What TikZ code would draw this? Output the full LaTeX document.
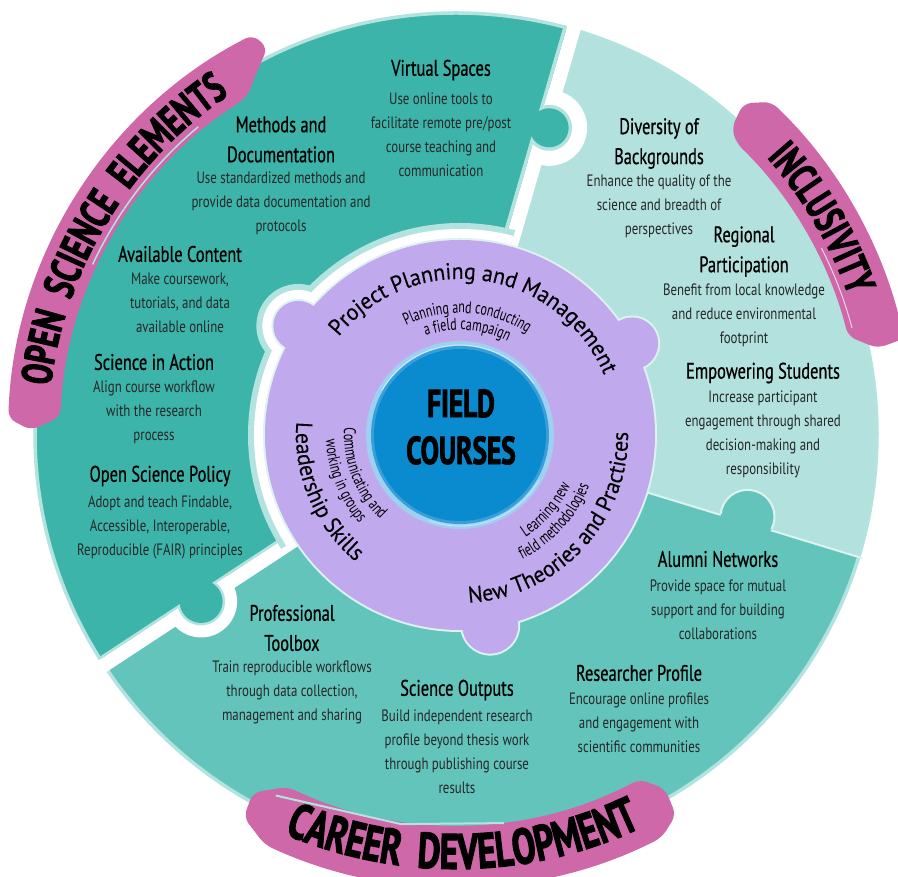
\documentclass[tikz,border=0pt]{standalone}
\usepackage{fontspec}
\setmainfont{PT Sans}
\newfontfamily\headfont{PT Sans}[FakeStretch=0.73,FakeBold=0.6]
\newfontfamily\bodyfont{PT Sans}[FakeStretch=0.78]
\newfontfamily\subfont{PT Sans}[FakeStretch=0.7]
\newfontfamily\curvefont{PT Sans}[FakeStretch=0.95,FakeBold=0.2]
\newfontfamily\bannerfont{PT Sans}[FakeStretch=0.7,BoldFeatures={FakeBold=2.2}]
\usetikzlibrary{decorations.text}

\definecolor{darkteal}{HTML}{3CB4A9}
\definecolor{lightteal}{HTML}{B2E1DE}
\definecolor{midteal}{HTML}{63C4BC}
\definecolor{rim}{HTML}{B3E3DF}
\definecolor{paleline}{HTML}{DDF3F1}
\definecolor{lavender}{HTML}{C1A9EE}
\definecolor{fieldblue}{HTML}{0A8BCF}
\definecolor{glowblue}{HTML}{9FD0F1}
\definecolor{brushpink}{HTML}{CE68A8}
\definecolor{bodygray}{HTML}{262626}

\tikzset{
  head/.style={font=\headfont\fontsize{22.5}{30}\selectfont, align=center, inner sep=0pt, text=black},
  body/.style={font=\bodyfont\fontsize{16.5}{24}\selectfont, align=center, inner sep=0pt, text=bodygray},
  curved/.style 2 args={decorate, decoration={text along path, text align=center, text={|#1|#2}}},
}

% heading and text of one topic: name, x, y of heading, heading, y of text, text
\newcommand\topic[6]{%
  \node[head] (#1) at (#2,#3) {#4};
  \node[body] (#1-txt) at (#2,#5) {#6};}

% the purple hub with its three knobs, grown by #1
\newcommand\blob[1]{(0,0) circle[radius={195+#1}] (146:195) circle[radius={25+#1}]
  (28:195) circle[radius={26+#1}] (-81:193) circle[radius={28+#1}]}

\begin{document}
\begin{tikzpicture}[x=1pt,y=1pt]
\useasboundingbox (0,0) rectangle (898,877);
\coordinate (C) at (456,443);
\coordinate (P) at (460,442);

% outer ring: three segments
\begin{scope}[shift={(C)}]
  \fill[darkteal] (0,0) -- (73.8:421) arc[start angle=73.8, end angle=213.3, radius=421] -- cycle;
  \fill[lightteal] (0,0) -- (-17:421) arc[start angle=-17, end angle=73.8, radius=421] -- cycle;
  \fill[midteal] (0,0) -- (213.3:421) arc[start angle=213.3, end angle=343, radius=421] -- cycle;
  \draw[rim, line width=3.5] (0,0) circle[radius=421];

  % gap open science / inclusivity
  \begin{scope}[rotate=73.8]
    \fill[white] (180,-7) rectangle (435,7);
    \draw[rim, line width=3.5] (180,8.75) -- (420,8.75);
    \begin{scope}
      \clip (250,-80) rectangle (400,7);
      \fill[white] (320,-4) circle[radius=38];
      \fill[rim] (320,-4) circle[radius=23];
    \end{scope}
    \fill[darkteal] (320,-4) circle[radius=19.5];
  \end{scope}

  % gap career / open science
  \begin{scope}[rotate=213.3]
    \fill[white] (180,-7) rectangle (435,7);
    \draw[rim, line width=2.5] (180,-8.25) -- (420,-8.25);
    \begin{scope}
      \clip (230,-7) rectangle (380,80);
      \fill[white] (305,0) circle[radius=36];
      \fill[rim] (305,0) circle[radius=24];
    \end{scope}
    \fill[darkteal] (305,0) circle[radius=21.5];
  \end{scope}

  % gap inclusivity / career
  \begin{scope}[rotate=-17]
    \draw[paleline, line width=2] (185,0) -- (425,0);
    \fill[midteal] (303,6) circle[radius=27];
    \begin{scope}
      \clip (250,1) rectangle (360,60);
      \draw[paleline, line width=2] (303,6) circle[radius=27];
    \end{scope}
  \end{scope}

  % white moat round the hub on the open science side
  \begin{scope}
    \clip (0,0) -- (73.8:450) arc[start angle=73.8, end angle=213.3, radius=450] -- cycle;
    \begin{scope}[shift={(4,-1)}]
      \fill[rim] \blob{17};
      \fill[white] \blob{11};
    \end{scope}
  \end{scope}
\end{scope}

% hub
\begin{scope}[shift={(P)}]
  \fill[paleline] \blob{2};
  \fill[lavender] \blob{0};
  \fill[glowblue] (0,0) circle[radius=94];
  \fill[fieldblue!70!glowblue] (0,0) circle[radius=89];
  \fill[fieldblue] (0,0) circle[radius=86];
  \draw[white, opacity=.6, line width=.8] (35:90) arc[start angle=35, end angle=150, radius=90];
  \draw[white, opacity=.5, line width=.8] (250:91) arc[start angle=250, end angle=330, radius=91];

  \path[curved={\curvefont\fontsize{23}{23}\selectfont}{Project Planning and Management}]
    (171.8:156) arc[start angle=171.8, end angle=-8.2, radius=156];
  \path[curved={\subfont\fontsize{17}{17}\selectfont}{Planning and conducting}]
    (176.4:122) arc[start angle=176.4, end angle=-3.6, radius=122];
  \path[curved={\subfont\fontsize{17}{17}\selectfont}{a field campaign}]
    (176:105) arc[start angle=176, end angle=-4, radius=105];

  \path[curved={\curvefont\fontsize{23}{23}\selectfont}{Leadership Skills}]
    (113:164) arc[start angle=113, end angle=293, radius=164];
  \path[curved={\subfont\fontsize{17}{17}\selectfont}{Communicating and}]
    (111.5:116) arc[start angle=111.5, end angle=291.5, radius=116];
  \path[curved={\subfont\fontsize{17}{17}\selectfont}{working in groups}]
    (111.7:134) arc[start angle=111.7, end angle=291.7, radius=134];

  \path[curved={\curvefont\fontsize{23}{23}\selectfont}{New Theories and Practices}]
    (227:168) arc[start angle=227, end angle=407, radius=168];
  \path[curved={\subfont\fontsize{17}{17}\selectfont}{Learning new}]
    (229:121.5) arc[start angle=229, end angle=409, radius=121.5];
  \path[curved={\subfont\fontsize{17}{17}\selectfont}{field methodologies}]
    (227.5:139) arc[start angle=227.5, end angle=407.5, radius=139];
\end{scope}

% texts, in pixel coordinates of the page
\begin{scope}[y=-1pt, yshift=877pt]
  \node[font=\bannerfont\bfseries\fontsize{39}{47}\selectfont, align=center, inner sep=0pt] (field) at (461,427) {FIELD\\COURSES};

  \topic{virtual}{441}{70}{Virtual Spaces}{134.5}{Use online tools to\\facilitate remote pre/post\\course teaching and\\communication}
  \topic{methods}{281}{139.5}{Methods and\\Documentation}{203.5}{Use standardized methods and\\provide data documentation and\\protocols}
  \topic{content}{180}{254}{Available Content}{302.5}{Make coursework,\\tutorials, and data\\available online}
  \topic{action}{154}{362}{Science in Action}{412.5}{Align course workflow\\with the research\\process}
  \topic{policy}{160}{476}{Open Science Policy}{527}{Adopt and teach Findable,\\Accessible, Interoperable,\\Reproducible (FAIR) principles}
  \topic{diversity}{659}{143.5}{Diversity of\\Backgrounds}{206.5}{Enhance the quality of the\\science and breadth of\\perspectives}
  \topic{regional}{744}{251.5}{Regional\\Participation}{315.5}{Benefit from local knowledge\\and reduce environmental\\footprint}
  \topic{empower}{763}{373}{Empowering Students}{434.5}{Increase participant\\engagement through shared\\decision-making and\\responsibility}
  \topic{alumni}{718}{559}{Alumni Networks}{610}{Provide space for mutual\\support and for building\\collaborations}
  \topic{profile}{639}{673}{Researcher Profile}{723}{Encourage online profiles\\and engagement with\\scientific communities}
  \topic{outputs}{457}{690}{Science Outputs}{751.5}{Build independent research\\profile beyond thesis work\\through publishing course\\results}
  \topic{toolbox}{292}{628}{Professional\\Toolbox}{692.5}{Train reproducible workflows\\through data collection,\\management and sharing}
\end{scope}

% brush banners
\begin{scope}[shift={(C)}]
  \fill[brushpink, rounded corners=8pt] (117:448) arc[start angle=117, end angle=178, radius=448]
    -- (179.5:425) -- (177.5:396) arc[start angle=177.5, end angle=122, radius=396]
    -- (119:412) -- (116:430) -- cycle;
  \draw[rim, line width=1.5] (155:401) arc[start angle=155, end angle=130, radius=401];
  \path[curved={\bannerfont\bfseries\fontsize{43}{43}\selectfont}{OPEN{\ \ }SCIENCE{\ \ }ELEMENTS}]
    (238.5:408) arc[start angle=238.5, end angle=58.5, radius=408];

  \fill[brushpink, rounded corners=8pt] (12:458) arc[start angle=12, end angle=46.5, radius=458]
    -- (49:438) -- (48:412) -- (46:404) arc[start angle=46, end angle=14, radius=404]
    -- (11.5:430) -- cycle;
  \draw[white, opacity=.7, line width=1] (27:410) arc[start angle=27, end angle=15, radius=410];
  \path[curved={\bannerfont\bfseries\fontsize{42}{42}\selectfont}{INCLUSIVITY}]
    (120.5:416) arc[start angle=120.5, end angle=-59.5, radius=416];

  \fill[brushpink, rounded corners=8pt] (244.5:391) arc[start angle=244.5, end angle=298, radius=391]
    -- (300.5:412) -- (300:440) -- (297:453) arc[start angle=297, end angle=245, radius=453]
    -- (241:438) -- (240.5:412) -- cycle;
  \draw[rim, line width=2] (243.5:404) -- (262:394) -- (277:392);
  \path[curved={\bannerfont\bfseries\fontsize{50}{50}\selectfont}{CAREER{\ \ }DEVELOPMENT}]
    (181:435) arc[start angle=181, end angle=361, radius=435];
\end{scope}
\end{tikzpicture}
\end{document}
